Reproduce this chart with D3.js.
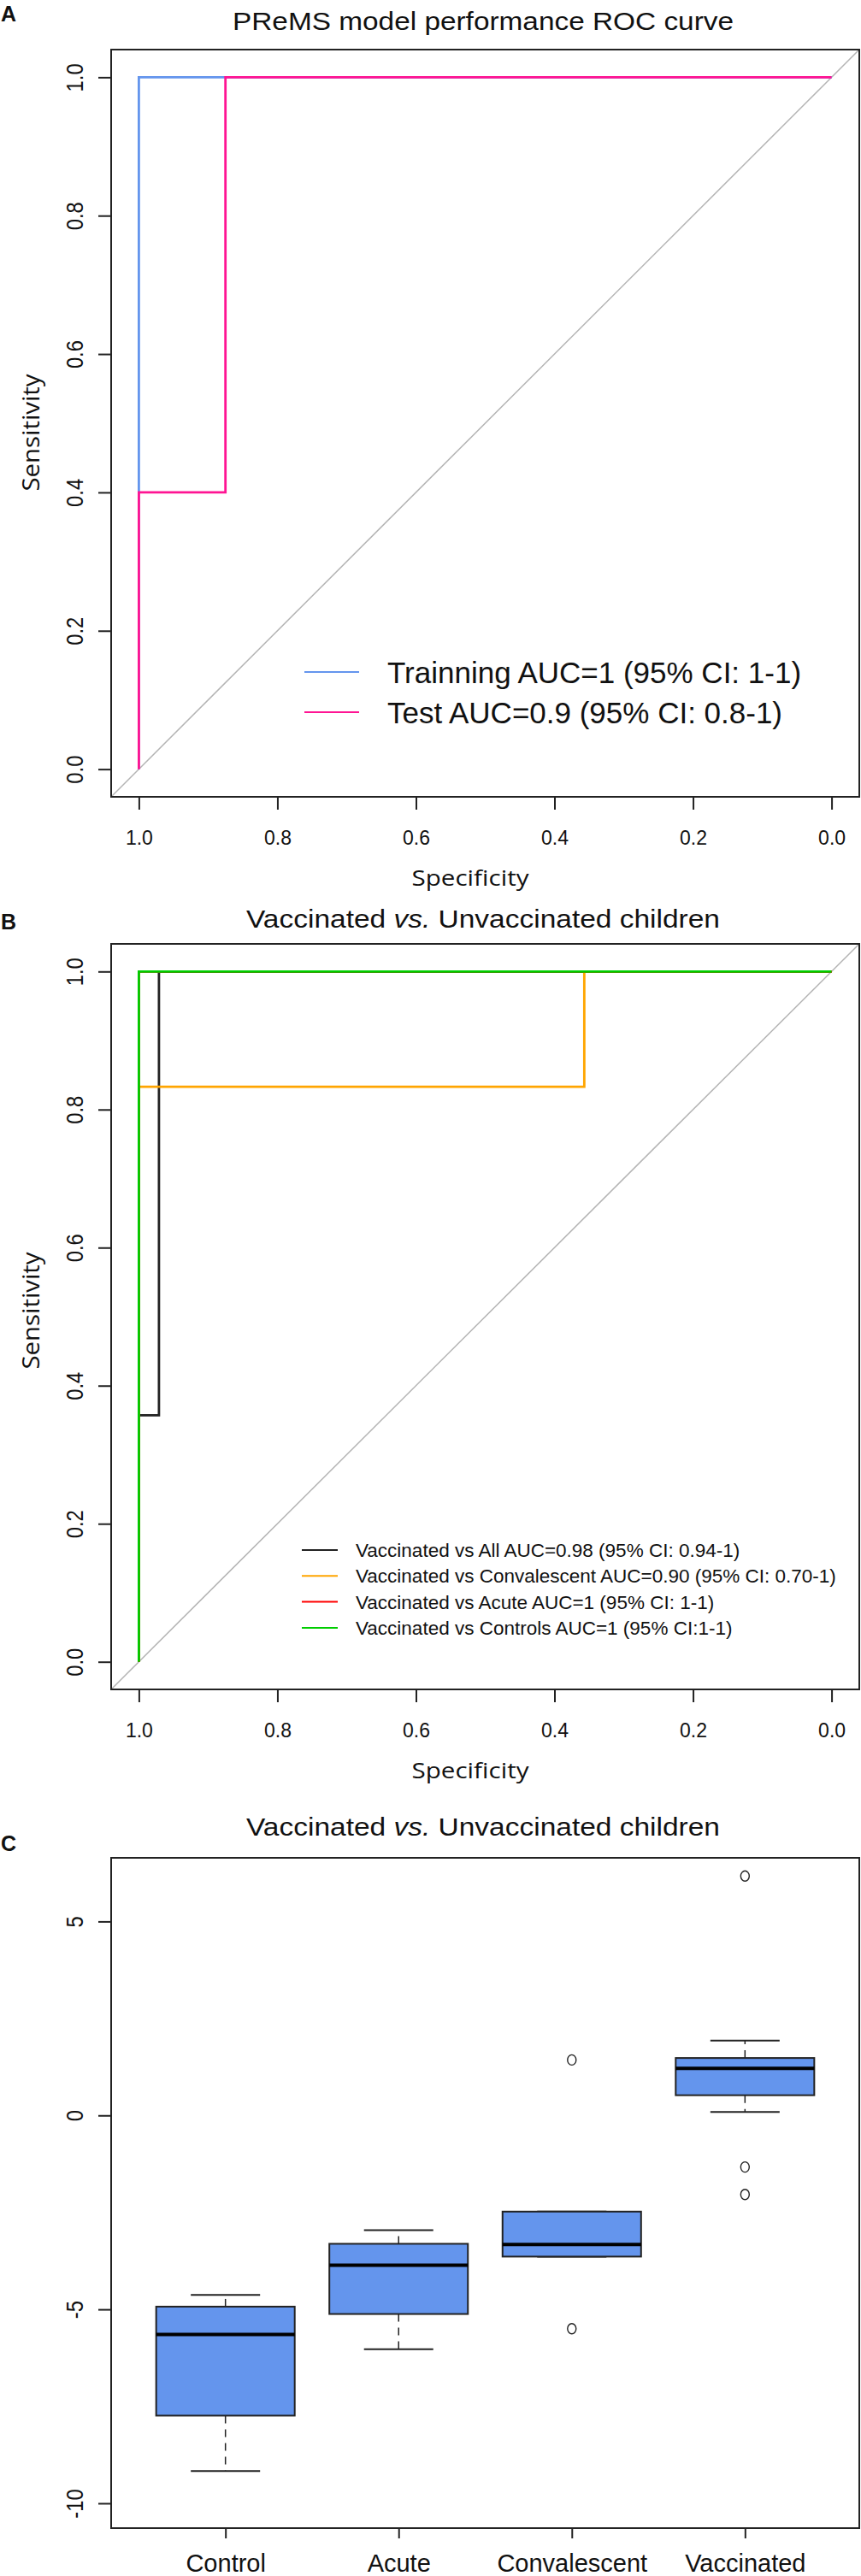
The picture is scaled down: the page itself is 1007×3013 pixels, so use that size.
<!DOCTYPE html>
<html>
<head>
<meta charset="utf-8">
<script src="https://cdn.jsdelivr.net/npm/d3@7"></script>
<style>
  body { margin: 0; background: #fff; }
  text { font-family: "Liberation Sans", Arial, sans-serif; fill: #111; }
  text.axtitle { font-family: "Open Sans", "Liberation Sans", sans-serif; }
</style>
</head>
<body>
<div class="chart"></div>
<script>
//Data
const specTicks = [1.0, 0.8, 0.6, 0.4, 0.2, 0.0];
const sensTicks = [0.0, 0.2, 0.4, 0.6, 0.8, 1.0];

// panel A curves (specificity / sensitivity steps)
const trainSpec = [1, 1, 0];
const trainSens = [0, 1, 1];
const testSpec = [1, 1, 0.875, 0.875, 0];
const testSens = [0, 0.4, 0.4, 1, 1];
const legendA = ["Trainning AUC=1 (95% CI: 1-1)", "Test AUC=0.9 (95% CI: 0.8-1)"];

// panel B curves
const allSpec = [1, 1, 0.971, 0.971, 0];
const allSens = [0, 0.357, 0.357, 1, 1];
const convSpec = [1, 1, 0.357, 0.357, 0];
const convSens = [0, 0.833, 0.833, 1, 1];
const acuteSpec = [1, 1, 0];
const acuteSens = [0, 1, 1];
const ctrlSpec = [1, 1, 0];
const ctrlSens = [0, 1, 1];
const legendB = [
    "Vaccinated vs All AUC=0.98 (95% CI: 0.94-1)",
    "Vaccinated vs Convalescent AUC=0.90 (95% CI: 0.70-1)",
    "Vaccinated vs Acute AUC=1 (95% CI: 1-1)",
    "Vaccinated vs Controls AUC=1 (95% CI:1-1)"
];

// panel C boxplot stats
const boxGroups = ["Control", "Acute", "Convalescent", "Vaccinated"];
const boxLow = [-9.17, -6.03, -3.64, 0.09];
const boxQ1 = [-7.74, -5.12, -3.64, 0.52];
const boxMedian = [-5.65, -3.86, -3.33, 1.21];
const boxQ3 = [-4.93, -3.31, -2.48, 1.48];
const boxHigh = [-4.63, -2.96, -2.48, 1.93];
const outlierGroup = ["Convalescent", "Convalescent", "Vaccinated", "Vaccinated", "Vaccinated"];
const outlierValue = [1.43, -5.50, 6.17, -1.33, -2.04];
const boxTicks = [-10, -5, 0, 5];

const W = 1007, H = 3013;
const left = 130, right = 1005;

const svg = d3.select(".chart").append("svg")
    .attr("width", W)
    .attr("height", H);

function zip(a, b) {
    return a.map((v, i) => [v, b[i]]);
}

function frame(top, bottom) {
    svg.append("rect")
        .attr("x", left).attr("y", top)
        .attr("width", right - left).attr("height", bottom - top)
        .attr("fill", "none").attr("stroke", "#222").attr("stroke-width", 2);
}

function yAxisRotated(yScale, ticks, fmt) {
    svg.append("g")
        .attr("transform", `translate(${left},0)`)
        .attr("font-family", null).attr("font-size", null)
        .call(d3.axisLeft(yScale).tickValues(ticks).tickSize(15).tickFormat(fmt))
        .call(a => a.select(".domain").remove())
        .call(a => a.selectAll("line").attr("stroke", "#222").attr("stroke-width", 2))
        .call(a => a.selectAll("text")
            .attr("x", 0).attr("y", -33).attr("dy", 0)
            .attr("text-anchor", "middle")
            .attr("transform", "rotate(-90) scale(0.85,1)")
            .attr("font-size", 28).attr("fill", "#111"));
}

function titleText(txt, y, len, italicPart) {
    const t = svg.append("text")
        .attr("x", 565).attr("y", y)
        .attr("text-anchor", "middle")
        .attr("font-size", 29)
        .attr("textLength", len).attr("lengthAdjust", "spacingAndGlyphs");
    if (italicPart) {
        const parts = txt.split(italicPart);
        t.append("tspan").text(parts[0]);
        t.append("tspan").attr("font-style", "italic").text(italicPart);
        t.append("tspan").text(parts[1]);
    } else {
        t.text(txt);
    }
}

function panelLetter(letter, y) {
    svg.append("text").attr("x", 1).attr("y", y)
        .attr("font-size", 25).attr("font-weight", "bold").text(letter);
}

function drawRoc(opt) {
    const x = d3.scaleLinear().domain([1.04, -0.04]).range([left, right]);
    const y = d3.scaleLinear().domain([-0.04, 1.04]).range([opt.bottom, opt.top]);

    // diagonal reference line
    const dom = x.domain();
    svg.append("line")
        .attr("x1", x(dom[0])).attr("y1", y(1 - dom[0]))
        .attr("x2", x(dom[1])).attr("y2", y(1 - dom[1]))
        .attr("stroke", "#b4b4b4").attr("stroke-width", 1.5);

    const line = d3.line().x(d => x(d[0])).y(d => y(d[1]));
    opt.curves.forEach(c => {
        svg.append("path")
            .datum(zip(c.spec, c.sens))
            .attr("d", line)
            .attr("fill", "none")
            .attr("stroke", c.color)
            .attr("stroke-width", 2.8);
    });

    frame(opt.top, opt.bottom);

    // x axis
    svg.append("g")
        .attr("transform", `translate(0,${opt.bottom})`)
        .attr("font-family", null).attr("font-size", null)
        .call(d3.axisBottom(x).tickValues(specTicks).tickSize(15).tickFormat(d3.format(".1f")))
        .call(a => a.select(".domain").remove())
        .call(a => a.selectAll("line").attr("stroke", "#222").attr("stroke-width", 2))
        .call(a => a.selectAll("text").attr("y", 56).attr("dy", 0)
            .attr("font-size", 23).attr("fill", "#111"));

    yAxisRotated(y, sensTicks, d3.format(".1f"));

    // axis titles
    svg.append("text").attr("class", "axtitle")
        .attr("x", 550).attr("y", opt.bottom + 104)
        .attr("text-anchor", "middle").attr("font-size", 26)
        .attr("textLength", 137).attr("lengthAdjust", "spacingAndGlyphs")
        .text("Specificity");
    svg.append("text").attr("class", "axtitle")
        .attr("transform", `translate(46,${opt.sensY}) rotate(-90)`)
        .attr("text-anchor", "middle").attr("font-size", 27)
        .attr("textLength", 137).attr("lengthAdjust", "spacingAndGlyphs")
        .text("Sensitivity");

    // legend
    const lg = svg.append("g");
    opt.legend.forEach((txt, i) => {
        const ly = opt.legendY + i * opt.legendStep;
        lg.append("line")
            .attr("x1", opt.legendX1).attr("x2", opt.legendX2)
            .attr("y1", ly).attr("y2", ly)
            .attr("stroke", opt.curves[i].color).attr("stroke-width", 2);
        lg.append("text")
            .attr("x", opt.legendTextX).attr("y", ly + opt.legendBase)
            .attr("font-size", opt.legendFont)
            .text(txt);
    });
}

// ---------- Panel A ----------
panelLetter("A", 25);
titleText("PReMS model performance ROC curve", 35, 586);
drawRoc({
    top: 58, bottom: 932, sensY: 506,
    curves: [
        { spec: trainSpec, sens: trainSens, color: "#6495ED" },
        { spec: testSpec, sens: testSens, color: "#FF1493" }
    ],
    legend: legendA,
    legendY: 786, legendStep: 47, legendBase: 13, legendFont: 35,
    legendX1: 356, legendX2: 420, legendTextX: 453
});

// ---------- Panel B ----------
panelLetter("B", 1087);
titleText("Vaccinated vs. Unvaccinated children", 1085, 554, "vs.");
drawRoc({
    top: 1104, bottom: 1976, sensY: 1533,
    curves: [
        { spec: allSpec, sens: allSens, color: "#222222" },
        { spec: convSpec, sens: convSens, color: "#FFA500" },
        { spec: acuteSpec, sens: acuteSens, color: "#FF0000" },
        { spec: ctrlSpec, sens: ctrlSens, color: "#00CD00" }
    ],
    legend: legendB,
    legendY: 1813, legendStep: 30.3, legendBase: 8, legendFont: 22.5,
    legendX1: 353, legendX2: 395, legendTextX: 416
});

// ---------- Panel C ----------
panelLetter("C", 2165);
titleText("Vaccinated vs. Unvaccinated children", 2147, 554, "vs.");

const cTop = 2173, cBottom = 2957;
const xC = d3.scaleLinear().domain([0.34, 4.66]).range([left, right]);
const yC = d3.scaleLinear().domain([-10.64, 6.64]).range([cBottom, cTop]);
const boxW = 0.4, capW = 0.2;

const boxes = boxGroups.map((g, i) => ({
    pos: i + 1, low: boxLow[i], q1: boxQ1[i], med: boxMedian[i], q3: boxQ3[i], high: boxHigh[i]
}));

const bg = svg.append("g");
boxes.forEach(b => {
    // whiskers
    [[b.q3, b.high], [b.q1, b.low]].forEach(([a, z]) => {
        if (a !== z) {
            bg.append("line")
                .attr("x1", xC(b.pos)).attr("x2", xC(b.pos))
                .attr("y1", yC(a)).attr("y2", yC(z))
                .attr("stroke", "#222").attr("stroke-width", 1.5)
                .attr("stroke-dasharray", "9,7");
        }
        bg.append("line")
            .attr("x1", xC(b.pos - capW)).attr("x2", xC(b.pos + capW))
            .attr("y1", yC(z)).attr("y2", yC(z))
            .attr("stroke", "#222").attr("stroke-width", 2);
    });
    bg.append("rect")
        .attr("x", xC(b.pos - boxW)).attr("width", xC(b.pos + boxW) - xC(b.pos - boxW))
        .attr("y", yC(b.q3)).attr("height", yC(b.q1) - yC(b.q3))
        .attr("fill", "#6495ED").attr("stroke", "#222").attr("stroke-width", 2);
    bg.append("line")
        .attr("x1", xC(b.pos - boxW)).attr("x2", xC(b.pos + boxW))
        .attr("y1", yC(b.med)).attr("y2", yC(b.med))
        .attr("stroke", "#000").attr("stroke-width", 4);
});

bg.selectAll(".out")
    .data(outlierValue.map((v, i) => ({ g: outlierGroup[i], v: v })))
    .enter().append("ellipse")
    .attr("class", "out")
    .attr("cx", d => xC(boxGroups.indexOf(d.g) + 1))
    .attr("cy", d => yC(d.v))
    .attr("rx", 5).attr("ry", 6)
    .attr("fill", "none").attr("stroke", "#222").attr("stroke-width", 1.4);

frame(cTop, cBottom);

svg.append("g")
    .attr("transform", `translate(0,${cBottom})`)
    .attr("font-family", null).attr("font-size", null)
    .call(d3.axisBottom(xC).tickValues([1, 2, 3, 4]).tickSize(12).tickFormat(d => boxGroups[d - 1]))
    .call(a => a.select(".domain").remove())
    .call(a => a.selectAll("line").attr("stroke", "#222").attr("stroke-width", 2))
    .call(a => a.selectAll("text").attr("y", 51).attr("dy", 0)
        .attr("font-size", 29).attr("fill", "#111"));

yAxisRotated(yC, boxTicks, d => String(d));
</script>
</body>
</html>
